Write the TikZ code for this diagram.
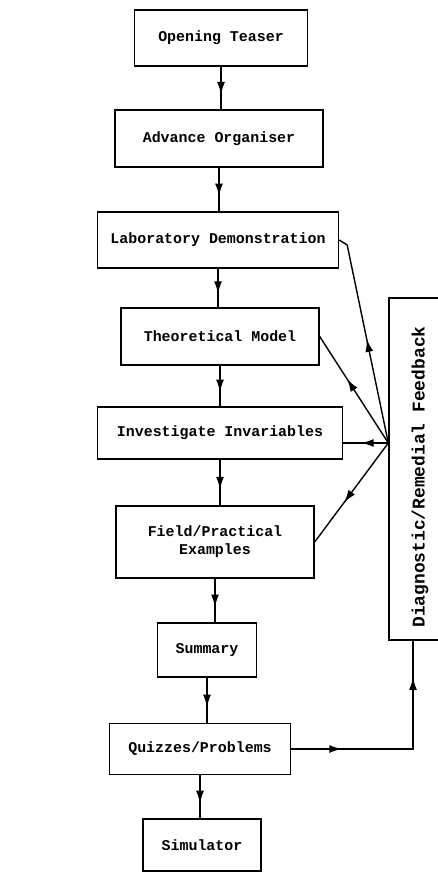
\documentclass[tikz,border=0pt]{standalone}
\usepackage{fontspec}
\setmonofont{Liberation Mono}
\usetikzlibrary{arrows.meta, decorations.markings}

\tikzset{
	box/.style={draw, line width=0.8pt, inner sep=0pt, align=center,
		font=\ttfamily\bfseries\fontsize{8.5}{10.2}\selectfont},
	midarrow/.style={postaction={decorate}, decoration={markings,
		mark=at position #1 with {\arrow{Latex[length=2.5mm,width=1.6mm]}}}},
}

\begin{document}
\begin{tikzpicture}[x=0.02cm, y=-0.02cm, line width=0.8pt]
	\useasboundingbox (0,0) rectangle (437,874);
	\node[box, minimum width=3.46cm, minimum height=1.12cm] (tease) at (221,38) {Opening Teaser};
	\node[box, minimum width=4.16cm, minimum height=1.14cm] (organ) at (219,138.5) {Advance Organiser};
	\node[box, minimum width=4.82cm, minimum height=1.12cm] (labdemo) at (218,240) {Laboratory Demonstration};
	\node[box, minimum width=3.96cm, minimum height=1.14cm] (theory) at (220,336.5) {Theoretical Model};
	\node[box, minimum width=4.90cm, minimum height=1.04cm] (invar) at (220,433) {Investigate Invariables};
	\node[box, minimum width=3.96cm, minimum height=1.44cm] (field) at (215,542) {Field/Practical\\Examples};
	\node[box, minimum width=1.98cm, minimum height=1.08cm] (summ) at (207,650) {Summary};
	\node[box, minimum width=3.62cm, minimum height=1.02cm] (quiz) at (200,749) {Quizzes/Problems};
	\node[box, minimum width=2.36cm, minimum height=1.04cm] (simul) at (202,845) {Simulator};
	\node[box, rotate=90, minimum width=6.84cm, minimum height=1.24cm,
		font=\ttfamily\bfseries\fontsize{10.2}{12}\selectfont] (feedback) at (420,469) {Diagnostic/Remedial Feedback\hspace{0.32cm}};
	\coordinate (hub) at ([shift={(0,-26)}]feedback.north);
	\coordinate (labbend) at ([shift={(8,5)}]labdemo.east);

	\draw[midarrow=0.65] (tease) -- (tease |- organ.north);
	\draw[midarrow=0.65] (organ) -- (organ |- labdemo.north);
	\draw[midarrow=0.65] (labdemo) -- (labdemo |- theory.north);
	\draw[midarrow=0.65] (theory) -- (theory |- invar.north);
	\draw[midarrow=0.65] (invar) -- (invar |- field.north);
	\draw[midarrow=0.65] (field) -- (summ.north -| field.south);
	\draw[midarrow=0.65] (summ) -- (summ |- quiz.north);
	\draw[midarrow=0.65] (quiz) -- (quiz |- simul.north);

	\draw[midarrow=0.5] (hub) -- (labbend) -- (labdemo.east);
	\draw[midarrow=0.6] (hub) -- (theory.east);
	\draw[midarrow=0.6] (hub) -- (hub -| invar.east);
	\draw[midarrow=0.6] (hub) -- (field.east);
	\draw[postaction={decorate}, decoration={markings,
		mark=at position 0.22 with {\arrow{Latex[length=2.5mm,width=1.6mm]}},
		mark=at position 0.84 with {\arrow{Latex[length=2.5mm,width=1.6mm]}}}]
		(quiz.east) -| ([shift={(-7,0)}]feedback.west);
\end{tikzpicture}
\end{document}
